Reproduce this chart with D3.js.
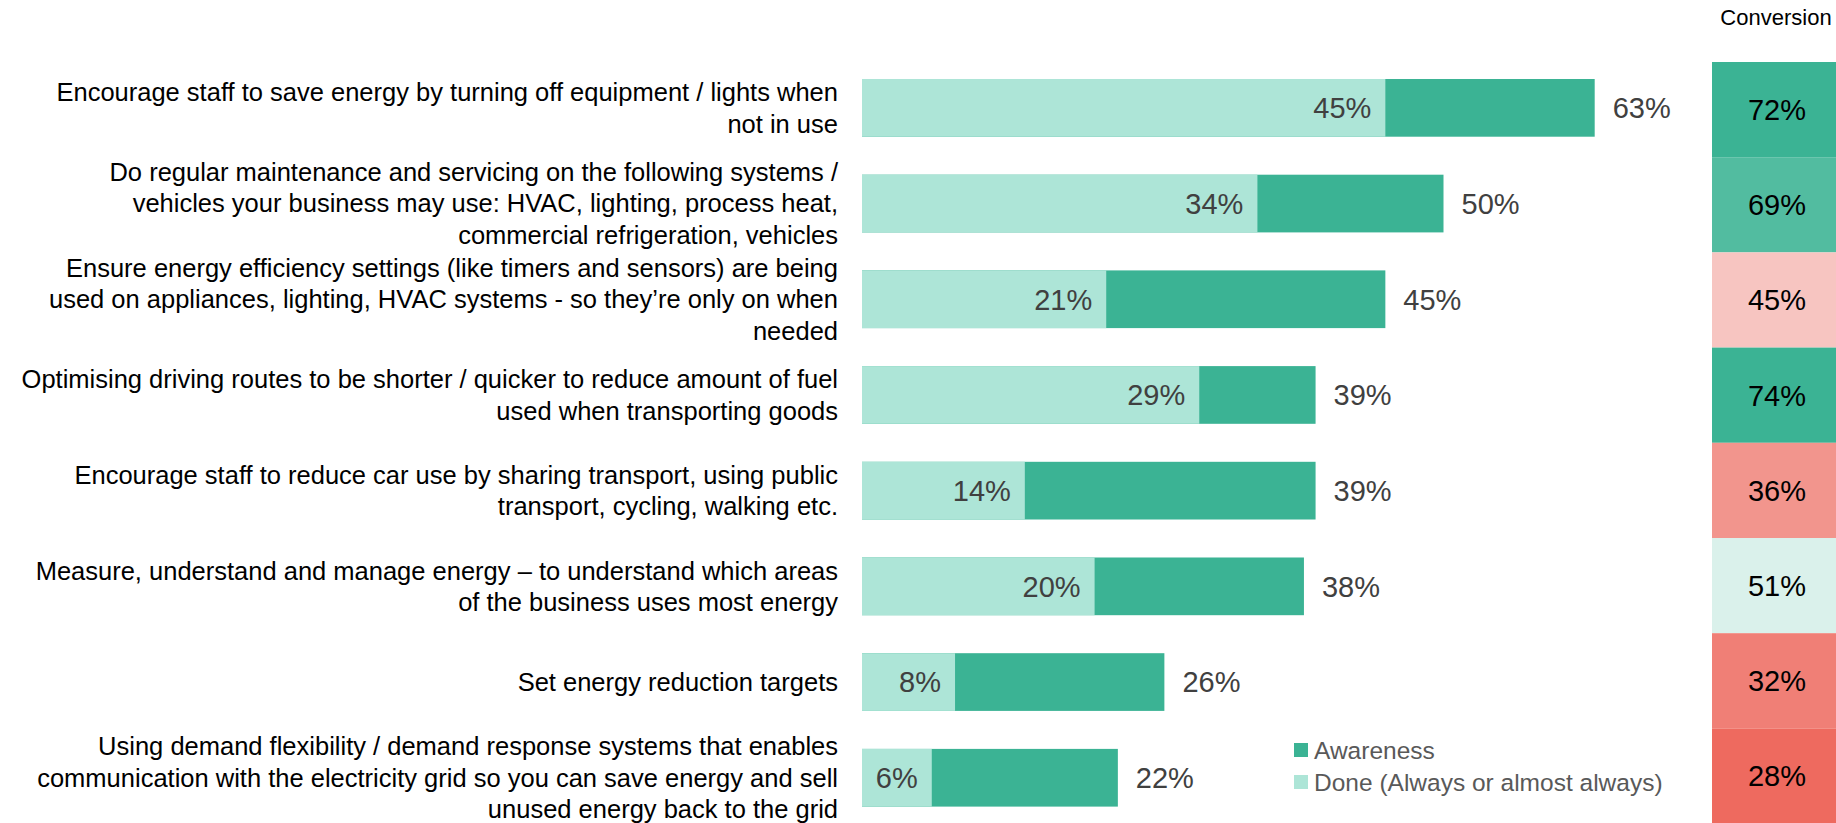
<!DOCTYPE html>
<html>
<head>
<meta charset="utf-8">
<script src="https://cdn.jsdelivr.net/npm/d3@7"></script>
<style>
  html, body { margin: 0; padding: 0; background: #ffffff; }
  svg { display: block; }
  text { font-family: "Liberation Sans", Arial, sans-serif; }
</style>
</head>
<body>
<svg id="chart" width="1836" height="823"></svg>
<script>
// ---------------- data ----------------
const categories = [
  ["Encourage staff to save energy by turning off equipment / lights when", "not in use"],
  ["Do regular maintenance and servicing on the following systems /", "vehicles your business may use: HVAC, lighting, process heat,", "commercial refrigeration, vehicles"],
  ["Ensure energy efficiency settings (like timers and sensors) are being", "used on appliances, lighting, HVAC systems - so they\u2019re only on when", "needed"],
  ["Optimising driving routes to be shorter / quicker to reduce amount of fuel", "used when transporting goods"],
  ["Encourage staff to reduce car use by sharing transport, using public", "transport, cycling, walking etc."],
  ["Measure, understand and manage energy \u2013 to understand which areas", "of the business uses most energy"],
  ["Set energy reduction targets"],
  ["Using demand flexibility / demand response systems that enables", "communication with the electricity grid so you can save energy and sell", "unused energy back to the grid"]
];
const awareness = [63, 50, 45, 39, 39, 38, 26, 22];
const done = [45, 34, 21, 29, 14, 20, 8, 6];
const conversion = [72, 69, 45, 74, 36, 51, 32, 28];
const seriesNames = ["Awareness", "Done (Always or almost always)"];
const conversionTitle = "Conversion";

// ---------------- layout ----------------
const svg = d3.select("#chart");
const ids = d3.range(categories.length);

const x = d3.scaleLinear().domain([0, 100]).range([862, 862 + 1163]);

const yBar = d3.scaleBand().domain(ids).range([60, 60 + 8 * 95.7])
  .paddingInner(0.397).paddingOuter(0.1985);

const yCell = d3.scaleBand().domain(ids).range([62, 62 + 8 * 95.2]).padding(0);

const COL_AWARE = "#3BB394";
const COL_DONE = "#ADE5D7";

const convColor = d3.scaleLinear()
  .domain([28, 48, 50, 72])
  .range(["#EE6A5F", "#F8D5D2", "#E2F4EF", "#3BB394"])
  .clamp(true);

// ---------------- bars ----------------
const g = svg.append("g");

g.selectAll("rect.aware").data(ids).join("rect")
  .attr("class", "aware")
  .attr("x", x(0))
  .attr("y", i => yBar(i))
  .attr("width", i => x(awareness[i]) - x(0))
  .attr("height", yBar.bandwidth())
  .attr("fill", COL_AWARE);

g.selectAll("rect.done").data(ids).join("rect")
  .attr("class", "done")
  .attr("x", x(0))
  .attr("y", i => yBar(i))
  .attr("width", i => x(done[i]) - x(0))
  .attr("height", yBar.bandwidth())
  .attr("fill", COL_DONE);

// value labels
g.selectAll("text.doneLbl").data(ids).join("text")
  .attr("class", "doneLbl")
  .attr("x", i => x(done[i]) - 14)
  .attr("y", i => yBar(i) + yBar.bandwidth() / 2)
  .attr("dy", "0.36em")
  .attr("text-anchor", "end")
  .attr("font-size", 29)
  .attr("fill", "#404040")
  .text(i => done[i] + "%");

g.selectAll("text.awareLbl").data(ids).join("text")
  .attr("class", "awareLbl")
  .attr("x", i => x(awareness[i]) + 18)
  .attr("y", i => yBar(i) + yBar.bandwidth() / 2)
  .attr("dy", "0.36em")
  .attr("text-anchor", "start")
  .attr("font-size", 29)
  .attr("fill", "#404040")
  .text(i => awareness[i] + "%");

// category labels
const lineH = 31.5;
const cat = g.selectAll("text.cat").data(ids).join("text")
  .attr("class", "cat")
  .attr("text-anchor", "end")
  .attr("font-size", 25.5)
  .attr("fill", "#000000");
cat.each(function(i) {
  const lines = categories[i];
  const cy = yBar(i) + yBar.bandwidth() / 2;
  const y0 = cy - (lines.length - 1) * lineH / 2;
  d3.select(this).selectAll("tspan").data(lines).join("tspan")
    .attr("x", 838)
    .attr("y", (d, k) => y0 + k * lineH)
    .attr("dy", "0.35em")
    .text(d => d);
});

// ---------------- conversion column ----------------
svg.append("text")
  .attr("x", 1776)
  .attr("y", 25)
  .attr("text-anchor", "middle")
  .attr("font-size", 22)
  .attr("fill", "#000000")
  .text(conversionTitle);

svg.selectAll("rect.cell").data(ids).join("rect")
  .attr("class", "cell")
  .attr("x", 1712)
  .attr("y", i => yCell(i))
  .attr("width", 1840 - 1712)
  .attr("height", yCell.bandwidth())
  .attr("fill", i => convColor(conversion[i]));

svg.selectAll("text.cellLbl").data(ids).join("text")
  .attr("class", "cellLbl")
  .attr("x", 1777)
  .attr("y", i => yCell(i) + yCell.bandwidth() / 2)
  .attr("dy", "0.36em")
  .attr("text-anchor", "middle")
  .attr("font-size", 29)
  .attr("fill", "#000000")
  .text(i => conversion[i] + "%");

// ---------------- legend ----------------
const legend = svg.append("g").attr("transform", "translate(1294,743)");
const legColors = [COL_AWARE, COL_DONE];
legend.selectAll("rect").data(seriesNames).join("rect")
  .attr("x", 0)
  .attr("y", (d, k) => k * 32)
  .attr("width", 14)
  .attr("height", 14)
  .attr("fill", (d, k) => legColors[k]);
legend.selectAll("text").data(seriesNames).join("text")
  .attr("x", 20)
  .attr("y", (d, k) => k * 32 + 7)
  .attr("dy", "0.36em")
  .attr("font-size", 24.5)
  .attr("fill", "#595959")
  .text(d => d);
</script>
</body>
</html>
